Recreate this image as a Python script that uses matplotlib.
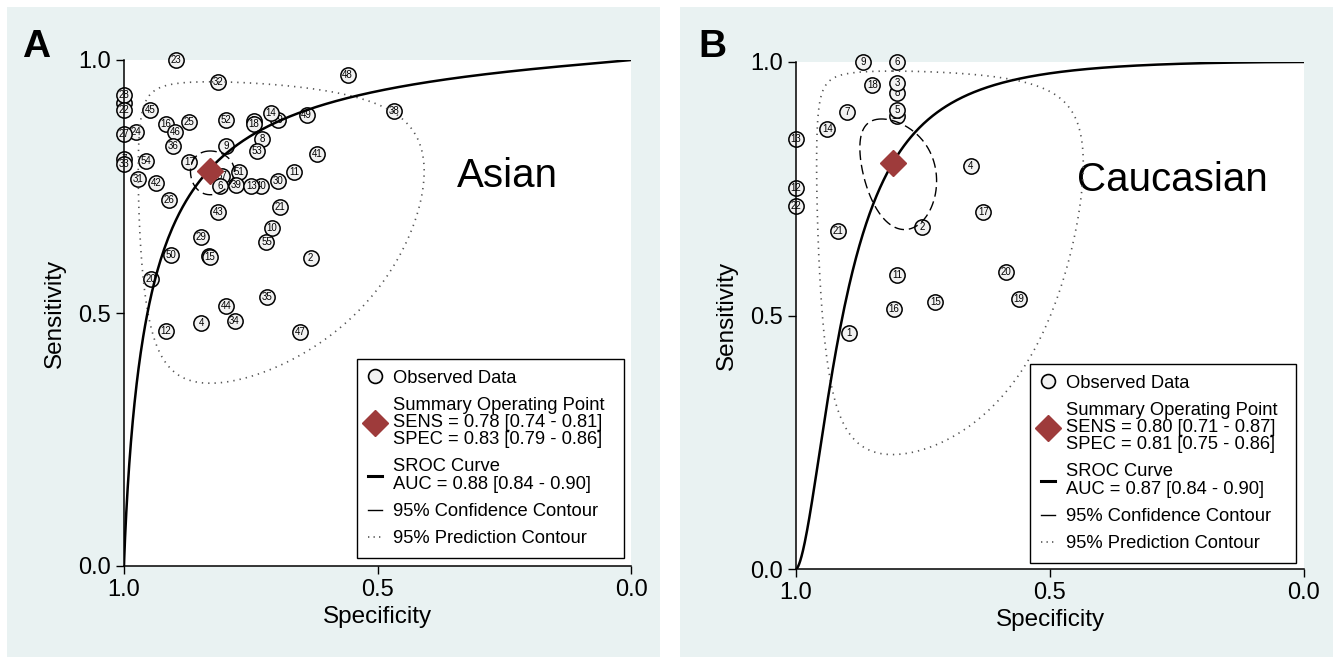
import numpy as np
import matplotlib
matplotlib.use('Agg')
import matplotlib.pyplot as plt
from matplotlib.lines import Line2D
from matplotlib.patches import Rectangle

plt.rcParams['font.family'] = ['Liberation Sans', 'DejaVu Sans']

# panel A - Asian studies, drawn in this order (later ones sit on top)
asian_ids = [23, 32, 48, 38, 1, 28, 22, 45, 24, 27, 16, 46, 25, 52, 3, 18, 19, 14, 49, 36,
             9, 8, 53, 41, 54, 7, 33, 17, 31, 42, 26, 37, 6, 51, 39, 40, 13, 30, 11, 21,
             43, 10, 55, 29, 50, 5, 15, 2, 20, 35, 44, 34, 4, 12, 47]
asian_spec = [0.898, 0.814, 0.559, 0.468, 1.0, 1.0, 1.0, 0.949, 0.976, 1.0,
              0.918, 0.899, 0.872, 0.798, 0.744, 0.744, 0.697, 0.710, 0.640, 0.904,
              0.799, 0.728, 0.738, 0.619, 0.957, 1.0, 1.0, 0.871, 0.973, 0.936,
              0.912, 0.806, 0.811, 0.773, 0.779, 0.730, 0.749, 0.697, 0.665, 0.692,
              0.815, 0.709, 0.719, 0.848, 0.907, 0.832, 0.831, 0.632, 0.947, 0.718,
              0.799, 0.782, 0.848, 0.918, 0.652]
asian_sens = [1.0, 0.956, 0.970, 0.899, 0.916, 0.931, 0.901, 0.901, 0.858, 0.853,
              0.874, 0.858, 0.877, 0.881, 0.880, 0.873, 0.882, 0.895, 0.891, 0.830,
              0.830, 0.844, 0.820, 0.814, 0.800, 0.804, 0.794, 0.799, 0.764, 0.756,
              0.723, 0.770, 0.751, 0.778, 0.753, 0.751, 0.751, 0.761, 0.778, 0.710,
              0.700, 0.667, 0.641, 0.651, 0.614, 0.612, 0.611, 0.609, 0.568, 0.531,
              0.513, 0.484, 0.481, 0.464, 0.462]

# panel B - Caucasian studies
cauc_ids = [9, 6, 18, 8, 3, 7, 10, 5, 14, 13, 4, 12, 22, 17, 2, 21, 11, 20, 19, 15, 16, 1]
cauc_spec = [0.868, 0.801, 0.850, 0.801, 0.801, 0.900, 0.801, 0.801, 0.938, 1.0, 0.656,
             1.0, 1.0, 0.631, 0.751, 0.918, 0.801, 0.587, 0.562, 0.726, 0.807, 0.895]
cauc_sens = [1.0, 1.0, 0.954, 0.939, 0.958, 0.902, 0.894, 0.905, 0.868, 0.848, 0.795,
             0.751, 0.716, 0.705, 0.674, 0.667, 0.580, 0.586, 0.533, 0.527, 0.513, 0.466]

# summary estimates and bivariate model parameters (logit scale)
asian_summary = dict(sens=0.78, spec=0.83, conf=(0.103, 0.125, 0.0), pred=(0.75, 0.80, 0.0),
                     sroc=(2.724, 0.9))
cauc_summary = dict(sens=0.80, spec=0.81, conf=(0.278, 0.20, 0.3), pred=(1.07, 0.70, 0.0),
                    sroc=(3.78, 1.65))

asian_labels = ['Observed Data',
                'Summary Operating Point\nSENS = 0.78 [0.74 - 0.81]\nSPEC = 0.83 [0.79 - 0.86]',
                'SROC Curve\nAUC = 0.88 [0.84 - 0.90]',
                '95% Confidence Contour', '95% Prediction Contour']
cauc_labels = ['Observed Data',
               'Summary Operating Point\nSENS = 0.80 [0.71 - 0.87]\nSPEC = 0.81 [0.75 - 0.86]',
               'SROC Curve\nAUC = 0.87 [0.84 - 0.90]',
               '95% Confidence Contour', '95% Prediction Contour']

PANEL_BG = '#e9f2f2'
DIAMOND = '#9e3b3b'
CIRCLE_FACE = '#f2f2f2'


def expit(x):
    return 1.0 / (1.0 + np.exp(-x))


def logit(p):
    return np.log(p / (1 - p))


def contour(sens, spec, sa, sb, rho):
    t = np.linspace(0, 2 * np.pi, 400)
    k = np.sqrt(5.991)
    a = logit(sens) + k * sa * np.cos(t)
    b = logit(spec) + k * sb * (rho * np.cos(t) + np.sqrt(1 - rho ** 2) * np.sin(t))
    return expit(b), expit(a)


def draw_panel(ax, ids, spec, sens, summ, labels, title, title_xy, legend_box):
    for i, (n, x, y) in enumerate(zip(ids, spec, sens)):
        z = 3 + i * 0.01
        ax.plot(x, y, 'o', ms=11, mfc=CIRCLE_FACE, mec='k', mew=1.1, clip_on=False, zorder=z)
        ax.text(x, y, str(n), fontsize=7, ha='center', va='center', zorder=z + 0.005,
                clip_on=False)

    alpha, beta = summ['sroc']
    fpr = np.concatenate([np.logspace(-7, -1, 300), np.linspace(0.1, 0.99999, 400)])
    ax.plot(1 - fpr, expit(alpha + beta * logit(fpr)), color='k', lw=1.8, zorder=4.5)

    cx, cy = contour(summ['sens'], summ['spec'], *summ['conf'])
    ax.plot(cx, cy, color='k', lw=1.0, ls=(0, (7, 3.5)), zorder=4.4)
    px, py = contour(summ['sens'], summ['spec'], *summ['pred'])
    ax.plot(px, py, color='#555555', lw=1.2, ls=(0, (0.8, 3)), zorder=4.4)

    ax.plot(summ['spec'], summ['sens'], 'D', ms=13, color=DIAMOND, zorder=5.5)

    ax.text(title_xy[0], title_xy[1], title, transform=ax.transAxes, fontsize=29,
            ha='left', va='center')

    ax.set_xlim(1, 0)
    ax.set_ylim(0, 1)
    ax.set_xticks([1.0, 0.5, 0.0])
    ax.set_yticks([0.0, 0.5, 1.0])
    ax.set_xticklabels(['1.0', '0.5', '0.0'])
    ax.set_yticklabels(['0.0', '0.5', '1.0'])
    ax.tick_params(direction='out', length=5.5, width=1.0, labelsize=17, pad=4)
    for side in ['top', 'right']:
        ax.spines[side].set_visible(False)
    for side in ['left', 'bottom']:
        ax.spines[side].set_linewidth(1.1)
        ax.spines[side].set_zorder(7)
    ax.set_facecolor('white')

    ax.set_xlabel('Specificity', fontsize=17.5)
    ax.set_ylabel('Sensitivity', fontsize=17.5)
    ax.xaxis.set_label_coords(0.5, -0.10)
    ax.xaxis.label.set_va('center')
    ax.yaxis.set_label_coords(-0.136, 0.5)
    ax.yaxis.label.set_va('center')

    handles = [
        Line2D([], [], ls='none', marker='o', ms=10, mfc=CIRCLE_FACE, mec='k', mew=1.2),
        Line2D([], [], ls='none', marker='D', ms=13, color=DIAMOND),
        Line2D([], [], color='k', lw=2.2),
        Line2D([], [], color='k', lw=1.0),
        Line2D([], [], color='#555555', lw=1.2, ls=(0, (0.8, 2.5))),
    ]
    leg = ax.legend(handles, labels, loc='lower left', bbox_to_anchor=legend_box,
                    mode='expand', borderaxespad=0, fontsize=13.2, handlelength=0.75,
                    handletextpad=0.6, borderpad=0.6, labelspacing=0.55,
                    fancybox=False, framealpha=1, edgecolor='k')
    leg.get_frame().set_linewidth(1.0)
    leg.set_zorder(6)
    for t in leg.get_texts():
        t.set_linespacing(1.03)


fig = plt.figure(figsize=(13.35, 6.58), dpi=100, facecolor='white')
W, H = 1335, 658
fig.patches.append(Rectangle((7 / W, 1 / H), 653 / W, 650 / H, transform=fig.transFigure,
                             facecolor=PANEL_BG, edgecolor='none', zorder=-1))
fig.patches.append(Rectangle((680 / W, 1 / H), 653 / W, 650 / H, transform=fig.transFigure,
                             facecolor=PANEL_BG, edgecolor='none', zorder=-1))

axA = fig.add_axes([124 / W, 1 - 566 / H, 507 / W, 506 / H])
axB = fig.add_axes([796 / W, 1 - 569 / H, 508 / W, 507 / H])

draw_panel(axA, asian_ids, asian_spec, asian_sens, asian_summary, asian_labels,
           'Asian', (0.657, 0.770), (0.4596, 0.0158, 0.5266, 0.1))
draw_panel(axB, cauc_ids, cauc_spec, cauc_sens, cauc_summary, cauc_labels,
           'Caucasian', (0.553, 0.767), (0.4606, 0.0118, 0.5237, 0.1))

fig.text(36 / W, 1 - 47 / H, 'A', fontsize=28, fontweight='bold', ha='center', va='center')
fig.text(712 / W, 1 - 47 / H, 'B', fontsize=28, fontweight='bold', ha='center', va='center')

fig.savefig('out.png', dpi=100, facecolor='white')
